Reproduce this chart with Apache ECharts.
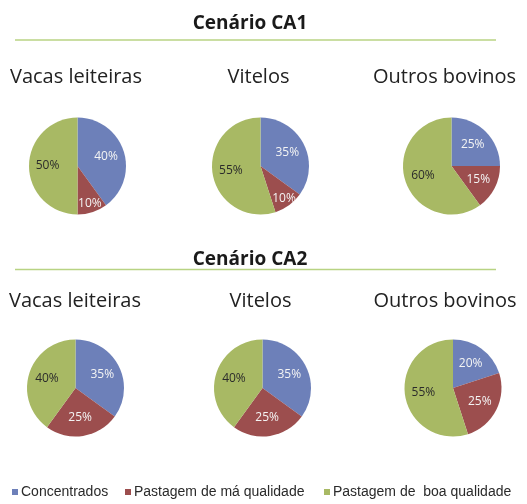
<!DOCTYPE html>
<html>
<head>
<meta charset="utf-8">
<script src="https://cdn.jsdelivr.net/npm/echarts@6/dist/echarts.min.js"></script>
<style>
  html, body { margin: 0; padding: 0; background: #ffffff; }
  #chart { width: 527px; height: 504px; }
</style>
</head>
<body>
<div id="chart"></div>
<script>
// Feed composition shares (%) for cattle groups under two scenarios
const categories = ['Concentrados', 'Pastagem de má qualidade', 'Pastagem de  boa qualidade'];
const scenarios = ['Cenário CA1', 'Cenário CA2'];
const groups = ['Vacas leiteiras', 'Vitelos', 'Outros bovinos'];
const ca1Values = [
  [40, 10, 50],   // Vacas leiteiras
  [35, 10, 55],   // Vitelos
  [25, 15, 60]    // Outros bovinos
];
const ca2Values = [
  [35, 25, 40],   // Vacas leiteiras
  [35, 25, 40],   // Vitelos
  [20, 25, 55]    // Outros bovinos
];

// Layout
const colors = ['#6d80b9', '#9c4e4e', '#a8b964'];
const labelColors = ['#f4f4f4', '#f4f4f4', '#2b2b2b'];
const pieRadius = 48.5;
const legendLeft = [12, 125, 324];
const rows = [
  { title: 23.5, rule: 40, sub: 77.5, pieY: 166, pieX: [77.5, 260.5, 451.5], subX: [76, 258.5, 444.5], values: ca1Values },
  { title: 260, rule: 269.5, sub: 301, pieY: 388, pieX: [75.5, 262.5, 453], subX: [75, 260.5, 445], values: ca2Values }
];

const chart = echarts.init(document.getElementById('chart'), null, { renderer: 'canvas' });

const series = [];
const graphics = [];
rows.forEach(function (row, ri) {
  graphics.push({
    type: 'text', silent: true,
    style: {
      text: scenarios[ri], x: 250, y: row.title,
      textAlign: 'center', textVerticalAlign: 'middle',
      font: 'bold 19px "Open Sans", sans-serif', fill: '#1a1a1a'
    }
  });
  graphics.push({
    type: 'line', silent: true,
    shape: { x1: 15, y1: row.rule, x2: 496, y2: row.rule },
    style: { stroke: '#b8d383', lineWidth: 1.5 }
  });
  groups.forEach(function (g, gi) {
    graphics.push({
      type: 'text', silent: true,
      style: {
        text: g, x: row.subX[gi], y: row.sub,
        textAlign: 'center', textVerticalAlign: 'middle',
        font: '20px "Open Sans", sans-serif', fill: '#222222'
      }
    });
    const vals = row.values[gi];
    const cx = row.pieX[gi], cy = row.pieY;
    series.push({
      type: 'pie',
      name: scenarios[ri] + ' - ' + g,
      center: [cx, cy],
      radius: [0, pieRadius],
      startAngle: 90,
      clockwise: true,
      animation: false,
      silent: true,
      avoidLabelOverlap: false,
      label: {
        show: true,
        position: 'inside',
        formatter: '{c}%',
        fontFamily: '"Open Sans", sans-serif',
        fontSize: 12
      },
      labelLine: { show: false },
      // narrow wedges keep their value further out along the slice bisector
      labelLayout: function (p) {
        const r = p.labelRect;
        const lx = r.x + r.width / 2, ly = r.y + r.height / 2;
        const dx = lx - cx, dy = ly - cy;
        const d = Math.sqrt(dx * dx + dy * dy) || 1;
        const dist = vals[p.dataIndex] <= 10 ? 40 : 30;
        return { x: cx + dx / d * dist, y: cy + dy / d * dist };
      },
      itemStyle: { borderWidth: 0 },
      data: categories.map(function (c, i) {
        return {
          name: c,
          value: vals[i],
          itemStyle: { color: colors[i] },
          label: { color: labelColors[i] }
        };
      })
    });
  });
});

// one legend entry per category, spaced along the bottom
const legends = categories.map(function (c, i) {
  return {
    data: [c],
    left: legendLeft[i],
    top: 485,
    padding: 0,
    icon: 'rect',
    itemWidth: 6,
    itemHeight: 6,
    selectedMode: false,
    textStyle: {
      fontFamily: '"Liberation Sans", Arial, sans-serif',
      fontSize: 14,
      color: '#2a2a2a',
      padding: [0, 0, 0, -2]
    }
  };
});

chart.setOption({
  backgroundColor: '#ffffff',
  animation: false,
  color: colors,
  legend: legends,
  graphic: graphics,
  series: series
});
</script>
</body>
</html>
